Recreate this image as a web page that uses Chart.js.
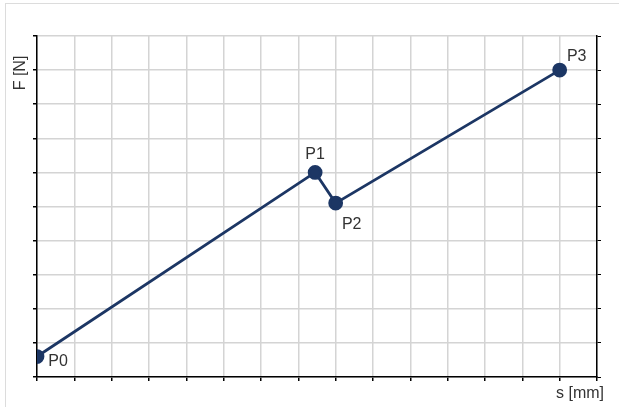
<!DOCTYPE html>
<html lang="en">
<head>
    <meta charset="UTF-8">
    <title>F-s Diagramm</title>
    <script src="https://cdn.jsdelivr.net/npm/chart.js"></script>
    <style>
        html, body { margin: 0; padding: 0; background: #fff; overflow: hidden; }
        #frame { position: absolute; left: 5px; top: 3px; width: 700px; height: 500px; border: 1px solid #dcdcdc; }
        #wrap { position: absolute; left: 0; top: 0; width: 619px; height: 407px; }
    </style>
</head>
<body>
    <div id="frame"></div>
    <div id="wrap"><canvas id="fsChart" width="619" height="407"></canvas></div>

<script>
// Punkte der Kennlinie
const pointNames = ['P0', 'P1', 'P2', 'P3'];
const sValues = [0, 7.45, 8, 14];
const fValues = [0.6, 6, 5.1, 9];
const xTitle = 's [mm]';
const yTitle = 'F [N]';

const lineColor = '#1c3664';
const textColor = '#333333';

// Beschriftung der Punkte + Achsentitel
const labelPlugin = {
    id: 'labels',
    afterDatasetsDraw(chart) {
        const ctx = chart.ctx;
        const meta = chart.getDatasetMeta(0);
        const offsets = [[21, 5], [0, -18], [16, 22], [17, -14]];
        ctx.save();
        ctx.font = '16px "Liberation Sans", Arial, sans-serif';
        ctx.fillStyle = textColor;
        ctx.textAlign = 'center';
        ctx.textBaseline = 'middle';
        meta.data.forEach((pt, i) => {
            ctx.fillText(pointNames[i], pt.x + offsets[i][0], pt.y + offsets[i][1]);
        });
        // x Titel unten rechts
        const area = chart.chartArea;
        ctx.fillText(xTitle, area.right - 17, area.bottom + 17);
        // y Titel gedreht
        ctx.translate(21, area.top + 37);
        ctx.rotate(-Math.PI / 2);
        ctx.fillText(yTitle, 0, 0);
        ctx.restore();
    }
};

const ctx = document.getElementById('fsChart').getContext('2d');
new Chart(ctx, {
    type: 'scatter',
    data: {
        datasets: [{
            data: sValues.map((s, i) => ({ x: s, y: fValues[i] })),
            showLine: true,
            borderColor: lineColor,
            backgroundColor: lineColor,
            borderWidth: 2.8,
            pointRadius: 6,
            pointHoverRadius: 6
        }]
    },
    options: {
        responsive: false,
        animation: false,
        layout: { padding: { top: 36, left: 0, right: 0, bottom: 0 } },
        plugins: {
            legend: { display: false },
            tooltip: { enabled: false }
        },
        scales: {
            x: {
                type: 'linear',
                min: 0,
                max: 15,
                ticks: { display: false, stepSize: 1 },
                grid: { color: '#d4d4d4', lineWidth: 1.5, tickColor: '#000', tickLength: 4 },
                border: { color: '#000', width: 1.5 },
                afterFit(scale) { scale.height = 30; }
            },
            y: {
                min: 0,
                max: 10,
                ticks: { display: false, stepSize: 1 },
                grid: { color: '#d4d4d4', lineWidth: 1.5, tickColor: '#000', tickLength: 4 },
                border: { color: '#000', width: 1.5 },
                afterFit(scale) { scale.width = 37; }
            },
            y2: {
                position: 'right',
                min: 0,
                max: 10,
                ticks: { display: false, stepSize: 1 },
                grid: { drawOnChartArea: false, tickColor: '#000', tickLength: 4 },
                border: { color: '#000', width: 1.5 },
                afterFit(scale) { scale.width = 22; }
            }
        }
    },
    plugins: [labelPlugin]
});
</script>
</body>
</html>
